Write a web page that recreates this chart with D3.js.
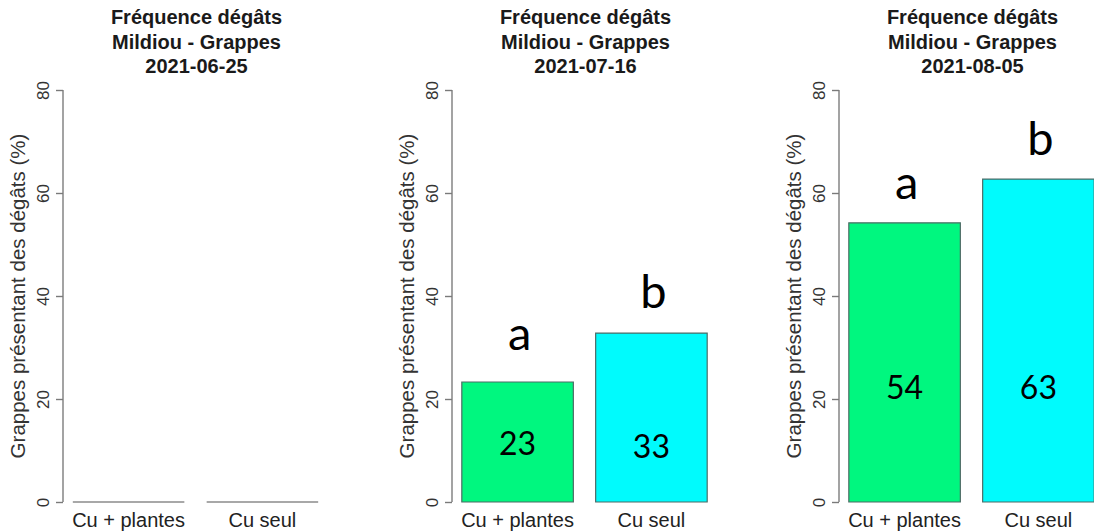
<!DOCTYPE html>
<html>
<head>
<meta charset="utf-8">
<script src="https://cdn.jsdelivr.net/npm/d3@7"></script>
<style>
  html, body { margin: 0; padding: 0; background: #fff; }
  svg { display: block; }
</style>
</head>
<body>
<svg id="chart" width="1094" height="531"></svg>
<script>
// Treatments and observation dates
const treatments = ["Cu + plantes", "Cu seul"];
const dates = ["2021-06-25", "2021-07-16", "2021-08-05"];

// Damage frequency (% of bunches) per date, one value per treatment
const freqJune = [0, 0];
const freqJuly = [23.3, 32.8];
const freqAug = [54.2, 62.7];
const freqByDate = [freqJune, freqJuly, freqAug];

// Rounded value labels printed inside the bars
const valueLabels = [[], ["23", "33"], ["54", "63"]];
// Vertical position (axis units) of the value labels
const valueLabelY = [[], [11.3, 10.8], [22.3, 22.3]];

// Significance letters and their vertical anchor (axis units, baseline)
const letters = [[], ["a", "b"], ["a", "b"]];
const letterY = [[], [29.5, 37.7], [58.9, 67.4]];

const yTicks = [0, 20, 40, 60, 80];
const colors = ["#00F77F", "#00FBFD"];

const titleLines = ["Fréquence dégâts", "Mildiou - Grappes"];
const yTitle = "Grappes présentant des dégâts (%)";

const svg = d3.select("#chart");
const panelX = [0, 389, 776];

// Bar layout in bar units: width 1, space 0.2, plot range padded 4%
const barLeft = [0.2, 1.4];
const barWidth = 1;
const xDomain = [0.112, 2.488];

const y = d3.scaleLinear().domain([0, 80]).range([502, 90]);

freqByDate.forEach((vals, p) => {
  const g = svg.append("g").attr("transform", `translate(${panelX[p]},0)`);
  const x = d3.scaleLinear().domain(xDomain).range([63, 328]);

  // Title (three lines)
  const cx = (x.range()[0] + x.range()[1]) / 2 + 1;
  const tl = titleLines.concat([dates[p]]);
  g.selectAll("text.title").data(tl).join("text")
    .attr("class", "title")
    .attr("x", cx)
    .attr("y", (d, i) => 24 + i * 24.5)
    .attr("text-anchor", "middle")
    .attr("font-family", "Liberation Sans, Arial, sans-serif")
    .attr("font-weight", "bold")
    .attr("font-size", 20)
    .attr("fill", "#1a1a1a")
    .text(d => d);

  // Y axis
  const axis = d3.axisLeft(y).tickValues(yTicks).tickSize(7).tickFormat(d3.format("d"));
  const ag = g.append("g").attr("transform", `translate(${x.range()[0]},0)`).call(axis);
  ag.select(".domain")
    .attr("d", `M-0,${y(0)}V${y(80)}`)
    .attr("stroke", "#8c8c8c").attr("stroke-width", 1.6);
  ag.selectAll(".tick line").attr("stroke", "#7a7a7a").attr("stroke-width", 1.4);
  ag.selectAll(".tick text")
    .attr("transform", "rotate(-90)")
    .attr("x", 0)
    .attr("y", -14)
    .attr("dy", 0)
    .attr("text-anchor", "middle")
    .attr("font-family", "Liberation Sans, Arial, sans-serif")
    .attr("font-size", 17)
    .attr("fill", "#333");

  // Y axis title
  g.append("text")
    .attr("transform", `translate(25,${(y(0) + y(80)) / 2}) rotate(-90)`)
    .attr("text-anchor", "middle")
    .attr("font-family", "Liberation Sans, Arial, sans-serif")
    .attr("font-size", 20.5)
    .attr("fill", "#333")
    .text(yTitle);

  // Bars drawn as closed paths so zero-height bars still show their outline
  g.selectAll("path.bar").data(vals).join("path")
    .attr("class", "bar")
    .attr("d", (d, i) => {
      const x0 = x(barLeft[i]), x1 = x(barLeft[i] + barWidth);
      return `M${x0},${y(0)}H${x1}V${y(d)}H${x0}Z`;
    })
    .attr("fill", (d, i) => colors[i])
    .attr("stroke", d => d > 0 ? "#4d6b66" : "#8c8c8c")
    .attr("stroke-width", d => d > 0 ? 1.2 : 1.6);

  // Category names
  g.selectAll("text.cat").data(treatments).join("text")
    .attr("class", "cat")
    .attr("x", (d, i) => x(barLeft[i] + barWidth / 2))
    .attr("y", 527)
    .attr("text-anchor", "middle")
    .attr("font-family", "Liberation Sans, Arial, sans-serif")
    .attr("font-size", 20)
    .attr("fill", "#222")
    .text(d => d);

  // Value labels inside bars
  g.selectAll("text.val").data(valueLabels[p]).join("text")
    .attr("class", "val")
    .attr("x", (d, i) => x(barLeft[i] + barWidth / 2))
    .attr("y", (d, i) => y(valueLabelY[p][i]))
    .attr("dy", "0.36em")
    .attr("text-anchor", "middle")
    .attr("font-family", "Lato, Open Sans, sans-serif")
    .attr("font-size", 32)
    .attr("fill", "#000")
    .text(d => d);

  // Significance letters above bars
  g.selectAll("text.letter").data(letters[p]).join("text")
    .attr("class", "letter")
    .attr("x", (d, i) => x(barLeft[i] + barWidth / 2) + 2)
    .attr("y", (d, i) => y(letterY[p][i]))
    .attr("text-anchor", "middle")
    .attr("font-family", "Lato, Open Sans, sans-serif")
    .attr("font-size", 47)
    .attr("fill", "#000")
    .text(d => d);
});
</script>
</body>
</html>
